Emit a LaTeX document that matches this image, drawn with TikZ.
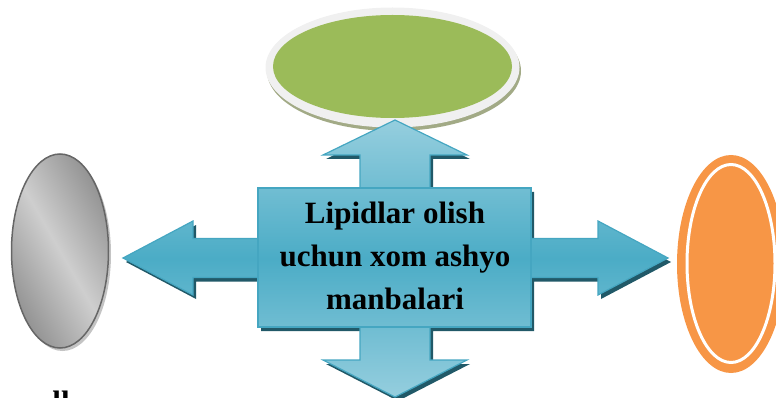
\documentclass[tikz,border=0pt]{standalone}
\usepackage{fontspec}
\setmainfont{Liberation Serif}
\usetikzlibrary{shapes.geometric}

\definecolor{arrowmid}{HTML}{4BACC6}
\definecolor{arrowlight}{HTML}{95CEDE}
\definecolor{arrowedge}{HTML}{45A6C1}
\definecolor{arrowshadow}{HTML}{215968}
\definecolor{leafgreen}{HTML}{9BBB59}
\definecolor{ringgray}{HTML}{F0F0F0}
\definecolor{greenshadow}{HTML}{A2AA86}
\definecolor{orangefill}{HTML}{F79646}
\definecolor{stonedark}{HTML}{929292}
\definecolor{stonelight}{HTML}{CECECE}
\definecolor{stoneedge}{HTML}{666666}
\definecolor{stoneshadow}{HTML}{C4C4C4}

\tikzset{
  oval/.style={ellipse, inner sep=0pt},
  fourway/.pic={
    \path[pic actions]
      (395,120) -- (467,155) -- (430,155) -- (430,188) -- (531,188)
      -- (531,238.5) -- (598,238.5) -- (598,221) -- (668,258) -- (598,295)
      -- (598,277.5) -- (531,277.5) -- (531,327) -- (430,327) -- (430,360)
      -- (467,360) -- (395,397) -- (323,360) -- (360,360) -- (360,327)
      -- (258,327) -- (258,277.5) -- (193,277.5) -- (193,295) -- (123,258)
      -- (193,221) -- (193,238.5) -- (258,238.5) -- (258,188) -- (360,188)
      -- (360,155) -- (323,155) -- cycle;
  },
  titlefont/.style={font=\bfseries\fontsize{31}{43}\selectfont},
}

\begin{document}
\begin{tikzpicture}[x=1pt,y=-1pt]
\useasboundingbox (0,0) rectangle (776,398);
\clip (0,0) rectangle (776,398);

% green disc at the top with its pale rim and soft shadow
\node[oval, fill=greenshadow, minimum width=254pt, minimum height=120pt] (greenshade) at (394,71) {};
\node[oval, fill=ringgray, minimum width=254pt, minimum height=120pt] (greenrim) at (392.5,67.5) {};
\node[oval, fill=leafgreen, minimum width=239pt, minimum height=103pt] (green) at (392.5,66.5) {};

% grey stone on the left
\node[oval, fill=stoneshadow, minimum width=97pt, minimum height=194pt] (greyshade) at (62.5,254) {};
\node[oval, draw=stoneedge, line width=1.5pt, left color=stonedark, right color=stonedark,
      middle color=stonelight, shading angle=120, minimum width=97pt, minimum height=194pt] (grey) at (60,251) {};

% orange oval on the right with an inner white ring
\node[oval, fill=orangefill, minimum width=108pt, minimum height=218pt] (orange) at (731,264) {};
\node[oval, draw=white, line width=3pt, minimum width=88pt, minimum height=198pt] (orangering) at (731,263.5) {};

% four-way arrow: shadow, shaded body, then the central panel outline
\pic[fill=arrowshadow] at (3,4) {fourway};
\pic[draw=arrowedge, line width=1.2pt, top color=arrowlight, bottom color=arrowlight,
     middle color=arrowmid] at (0,0) {fourway};
\node[draw=arrowedge, line width=1.2pt, minimum width=273pt, minimum height=139pt,
      inner sep=0pt] (panel) at (394.5,257.5) {};

\node[titlefont, align=center, inner sep=0pt] (title) at (395,256) {Lipidlar olish\\uchun xom ashyo\\manbalari};

% caption below the grey stone, cut by the lower edge
\node[titlefont, anchor=base, inner sep=0pt] (stonecaption) at (61,412) {ll};
\end{tikzpicture}
\end{document}
